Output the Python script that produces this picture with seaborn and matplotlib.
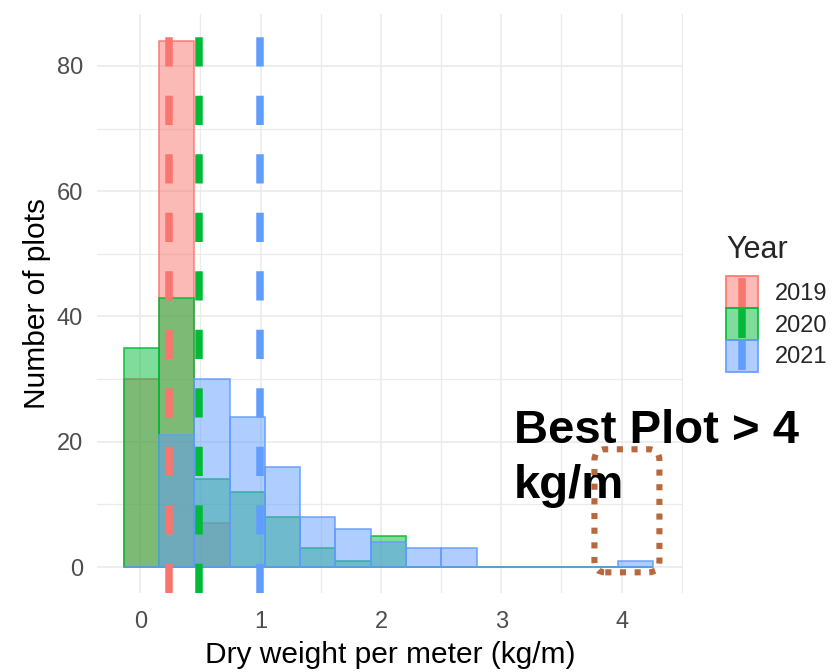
import numpy as np
import pandas as pd
import matplotlib
matplotlib.use("Agg")
import matplotlib.pyplot as plt
import seaborn as sns
from matplotlib.colors import to_rgba
from matplotlib.patches import Patch, Rectangle, FancyBboxPatch
from matplotlib.lines import Line2D
from matplotlib.legend_handler import HandlerBase
from matplotlib.ticker import MultipleLocator

# ---------------- data ----------------
years = ["2019", "2020", "2021"]
bin_edges = [-0.139, 0.1545, 0.448, 0.7415, 1.035, 1.3285, 1.622, 1.9155,
             2.209, 2.5025, 2.796, 3.0895, 3.383, 3.6765, 3.97, 4.2635]
bin_centers = [0.008, 0.301, 0.595, 0.888, 1.182, 1.475, 1.769, 2.062,
               2.356, 2.649, 2.943, 3.236, 3.530, 3.823, 4.117]
counts_2019 = [30, 84, 7, 0, 0, 0, 0, 0, 0, 0, 0, 0, 0, 0, 0]
counts_2020 = [35, 43, 14, 12, 8, 3, 1, 5, 0, 0, 0, 0, 0, 0, 0]
counts_2021 = [0, 21, 30, 24, 16, 8, 6, 4, 3, 3, 0, 0, 0, 0, 1]
mean_weight = [0.239, 0.484, 0.993]
year_colors = ["#F8766D", "#00BA38", "#619CFF"]
x_ticks = [0, 1, 2, 3, 4]
y_ticks = [0, 20, 40, 60, 80]

df = pd.DataFrame({
    "Year": np.repeat(years, len(bin_centers)),
    "weight": bin_centers * 3,
    "count": counts_2019 + counts_2020 + counts_2021,
})

# ---------------- style ----------------
sns.set_theme(style="white")
plt.rcParams["font.family"] = ["Liberation Sans", "DejaVu Sans"]

fig = plt.figure(figsize=(8.36, 6.72), dpi=100)
ax = fig.add_axes([97 / 836, 1 - 593 / 672, (683 - 97) / 836, (593 - 14) / 672])

for yr, col in zip(years, year_colors):
    sns.histplot(data=df[df["Year"] == yr], x="weight", weights="count",
                 bins=bin_edges, ax=ax, element="bars",
                 facecolor=to_rgba(col, 0.5), edgecolor=to_rgba(col, 0.85),
                 linewidth=1.2, zorder=2)

for m, col in zip(mean_weight, year_colors):
    ax.axvline(m, color=col, lw=5.4, dashes=(3.9, 3.9), zorder=3)

ax.set_xlim(-0.36, 4.51)
ax.set_ylim(-4.15, 88.3)
ax.set_xticks(x_ticks)
ax.set_yticks(y_ticks)
ax.xaxis.set_minor_locator(MultipleLocator(0.5))
ax.yaxis.set_minor_locator(MultipleLocator(10))
ax.grid(True, which="major", color="#EBEBEB", lw=1.2)
ax.grid(True, which="minor", color="#EBEBEB", lw=0.9)
ax.set_axisbelow(True)
for s in ax.spines.values():
    s.set_visible(False)
ax.tick_params(axis="both", which="both", length=0, labelsize=17,
               labelcolor="#4D4D4D")
ax.tick_params(axis="x", pad=13)
ax.tick_params(axis="y", pad=10)

ax.set_xlabel("Dry weight per meter (kg/m)", fontsize=21.5, color="black",
              labelpad=6)
ax.set_ylabel("Number of plots", fontsize=21.5, color="black", labelpad=4)

# annotation
ax.text(3.107, 25.3, "Best Plot > 4\nkg/m", fontsize=34, fontweight="bold",
        ha="left", va="top", color="black", linespacing=1.33, zorder=5)
box = FancyBboxPatch((3.774, -0.85), 0.54, 19.65,
                     boxstyle="round,pad=0,rounding_size=0.09",
                     mutation_aspect=19.3, fill=False, edgecolor="#B8683C",
                     lw=4.4, linestyle=(0, (1, 1.4)), zorder=6, clip_on=False)
ax.add_patch(box)


# legend: filled box with a vertical line through its centre
class KeyHandler(HandlerBase):
    def create_artists(self, legend, orig_handle, xdescent, ydescent,
                       width, height, fontsize, trans):
        col = orig_handle.get_edgecolor()
        rect = Rectangle((-xdescent, -ydescent), width, height,
                         facecolor=orig_handle.get_facecolor(),
                         edgecolor=col, lw=1.2, transform=trans)
        xm = -xdescent + width / 2
        line = Line2D([xm, xm], [-ydescent + 1, -ydescent + height - 1],
                      color=col, lw=5.4, solid_capstyle="butt",
                      transform=trans)
        return [rect, line]


handles = [Patch(facecolor=to_rgba(c, 0.5), edgecolor=c) for c in year_colors]
leg = fig.legend(handles, years, title="Year", loc="upper left",
                 bbox_to_anchor=(726 / 836, 1 - 235 / 672),
                 handler_map={Patch: KeyHandler()},
                 frameon=False, fontsize=17, title_fontsize=22,
                 handlelength=1.36, handleheight=1.7, labelspacing=0,
                 handletextpad=0.7, borderpad=0, borderaxespad=0,
                 alignment="left")
leg._legend_box.sep = 8

fig.savefig("out.png", dpi=100)
